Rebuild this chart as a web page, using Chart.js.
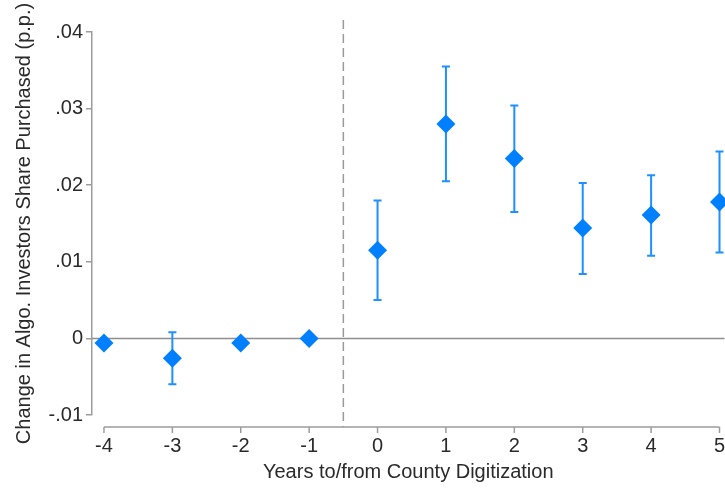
<!DOCTYPE html>
<html><head><meta charset="utf-8">
<script src="https://cdn.jsdelivr.net/npm/chart.js@4"></script>
<style>html,body{margin:0;padding:0;background:#fff;overflow:hidden}#wrap{width:725px;height:489px;overflow:hidden}</style>
</head><body><div id="wrap"><canvas id="c" width="734" height="489"></canvas></div>
<script>
const years = [-4, -3, -2, -1, 0, 1, 2, 3, 4, 5];
const estimates = [-0.0006, -0.0026, -0.0006, 0.0, 0.0115, 0.0280, 0.0235, 0.0144, 0.0161, 0.0178];
const ciLow = [null, -0.0060, null, null, 0.0050, 0.0205, 0.0165, 0.0084, 0.0108, 0.0112];
const ciHigh = [null, 0.0008, null, null, 0.0180, 0.0355, 0.0304, 0.0203, 0.0213, 0.0244];
const yTicks = [-0.01, 0, 0.01, 0.02, 0.03, 0.04];
const yTickLabels = ['-.01', '0', '.01', '.02', '.03', '.04'];
const xTicks = [-4, -3, -2, -1, 0, 1, 2, 3, 4, 5];
const xTickLabels = ['-4', '-3', '-2', '-1', '0', '1', '2', '3', '4', '5'];
const eventTime = -0.5;
const xTitle = 'Years to/from County Digitization';
const yTitle = 'Change in Algo. Investors Share Purchased (p.p.)';

const FONT = "'Liberation Sans', Arial, sans-serif";
const TEXT = '#2a2a2a';
const AXIS = '#9c9c9c';

const overlay = {
  id: 'overlay',
  beforeDatasetsDraw(chart) {
    const {ctx, chartArea: a, scales: {x, y}} = chart;
    ctx.save();
    ctx.strokeStyle = '#8e8e8e';
    ctx.lineWidth = 1.5;
    ctx.beginPath();
    ctx.moveTo(a.left, y.getPixelForValue(0));
    ctx.lineTo(a.right, y.getPixelForValue(0));
    ctx.stroke();
    const xe = x.getPixelForValue(eventTime);
    ctx.strokeStyle = '#9a9a9a';
    ctx.setLineDash([9, 5]);
    ctx.beginPath();
    ctx.moveTo(xe, a.top - 12);
    ctx.lineTo(xe, a.bottom + 12);
    ctx.stroke();
    ctx.setLineDash([]);
    ctx.strokeStyle = '#1e90ff';
    ctx.lineWidth = 2;
    for (let i = 0; i < years.length; i++) {
      if (ciLow[i] === null || ciHigh[i] === null) continue;
      const px = x.getPixelForValue(years[i]);
      const lo = y.getPixelForValue(ciLow[i]);
      const hi = y.getPixelForValue(ciHigh[i]);
      ctx.beginPath();
      ctx.moveTo(px, lo); ctx.lineTo(px, hi);
      ctx.moveTo(px - 4, lo); ctx.lineTo(px + 4, lo);
      ctx.moveTo(px - 4, hi); ctx.lineTo(px + 4, hi);
      ctx.stroke();
    }
    ctx.restore();
  },
  afterDraw(chart) {
    const {ctx, chartArea: a, scales: {x}} = chart;
    ctx.save();
    const ya = a.bottom + 12;
    ctx.strokeStyle = AXIS;
    ctx.lineWidth = 1.5;
    ctx.beginPath();
    ctx.moveTo(x.getPixelForValue(xTicks[0]), ya);
    ctx.lineTo(x.getPixelForValue(xTicks[xTicks.length - 1]), ya);
    for (const t of xTicks) {
      const px = x.getPixelForValue(t);
      ctx.moveTo(px, ya);
      ctx.lineTo(px, ya + 6);
    }
    ctx.stroke();
    ctx.restore();
  }
};

new Chart(document.getElementById('c'), {
  type: 'scatter',
  data: {
    datasets: [{
      data: years.map((v, i) => ({x: v, y: estimates[i]})),
      pointStyle: 'rectRot',
      pointRadius: 9.5,
      pointHoverRadius: 9.5,
      backgroundColor: '#0080ff',
      borderColor: '#0080ff',
      borderWidth: 0,
      showLine: false,
      clip: false
    }]
  },
  options: {
    responsive: false,
    animation: false,
    events: [],
    layout: {padding: {top: 32, right: 0, bottom: 0, left: 0}},
    plugins: {legend: {display: false}, tooltip: {enabled: false}},
    scales: {
      x: {
        type: 'linear',
        min: -4.175,
        max: 5.073,
        afterBuildTicks: s => { s.ticks = xTicks.map(v => ({value: v})); },
        afterFit: s => { s.height = 74; s.paddingRight = 0; s.paddingLeft = 0; },
        grid: {display: false, drawTicks: false},
        border: {display: false},
        ticks: {
          callback: (v, i) => xTickLabels[i],
          color: TEXT, font: {family: FONT, size: 20}, padding: 19, maxRotation: 0, autoSkip: false
        },
        title: {display: true, text: xTitle, color: TEXT, font: {family: FONT, size: 20}, padding: {top: 0, bottom: 5}}
      },
      y: {
        min: -0.01,
        max: 0.04,
        afterBuildTicks: s => { s.ticks = yTicks.map(v => ({value: v})); },
        afterFit: s => { s.width = 92; s.paddingTop = 0; s.paddingBottom = 0; },
        grid: {drawOnChartArea: false, drawTicks: true, tickLength: 6, color: AXIS, lineWidth: 1.5},
        border: {display: true, color: AXIS, width: 1.5},
        ticks: {
          callback: (v, i) => yTickLabels[i],
          color: TEXT, font: {family: FONT, size: 20}, padding: 3
        },
        title: {display: true, text: yTitle, color: TEXT, font: {family: FONT, size: 20}, padding: {top: 12, bottom: 0}}
      }
    }
  },
  plugins: [overlay]
});
</script>
</body></html>
